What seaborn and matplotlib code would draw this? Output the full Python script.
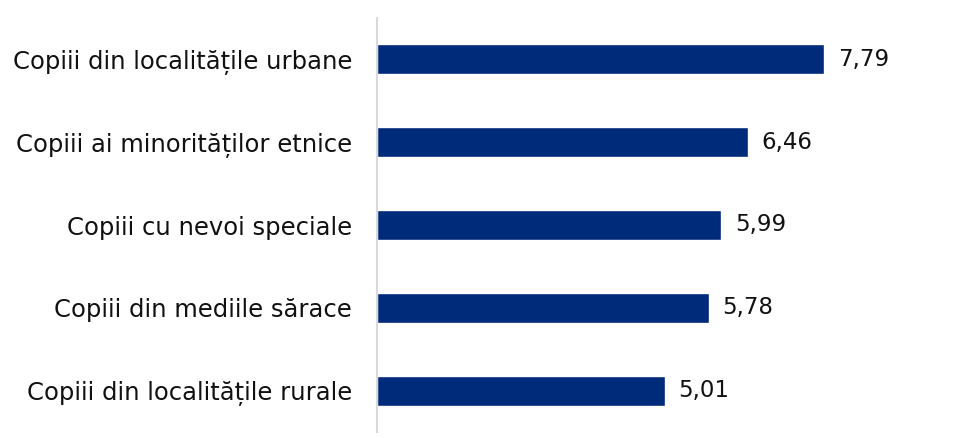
import matplotlib
matplotlib.use("Agg")
import matplotlib.pyplot as plt
import pandas as pd
import seaborn as sns

# === DATA ===
categories = [
    "Copiii din localitățile urbane",
    "Copiii ai minorităților etnice",
    "Copiii cu nevoi speciale",
    "Copiii din mediile sărace",
    "Copiii din localitățile rurale",
]
values = [7.79, 6.46, 5.99, 5.78, 5.01]
value_labels = ["7,79", "6,46", "5,99", "5,78", "5,01"]

BAR_COLOR = "#002A7A"
TEXT_COLOR = "#111111"

sns.set_style("white")
plt.rcParams["font.family"] = ["DejaVu Sans"]

df = pd.DataFrame({"category": categories, "value": values})

fig = plt.figure(figsize=(9.7, 4.38), dpi=100)
ax = fig.add_axes([377 / 970, 6 / 438, 574 / 970, 414 / 438])

sns.barplot(data=df, x="value", y="category", color=BAR_COLOR, width=0.36,
            saturation=1, ax=ax)

for i, (v, lab) in enumerate(zip(values, value_labels)):
    ax.annotate(lab, (v, i), xytext=(10, 0), textcoords="offset points",
                va="center", ha="left", fontsize=16.5, color=TEXT_COLOR)

ax.set_xlim(0, 10)
ax.set_ylim(4.5, -0.5)
ax.set_xlabel("")
ax.set_ylabel("")
ax.set_xticks([])
ax.tick_params(axis="y", length=0, pad=18, labelsize=17.5, labelcolor=TEXT_COLOR)
for side in ["top", "right", "bottom"]:
    ax.spines[side].set_visible(False)
ax.spines["left"].set_color("#D9D9D9")
ax.spines["left"].set_linewidth(1.5)

plt.savefig("out.png", dpi=100)
plt.close()
